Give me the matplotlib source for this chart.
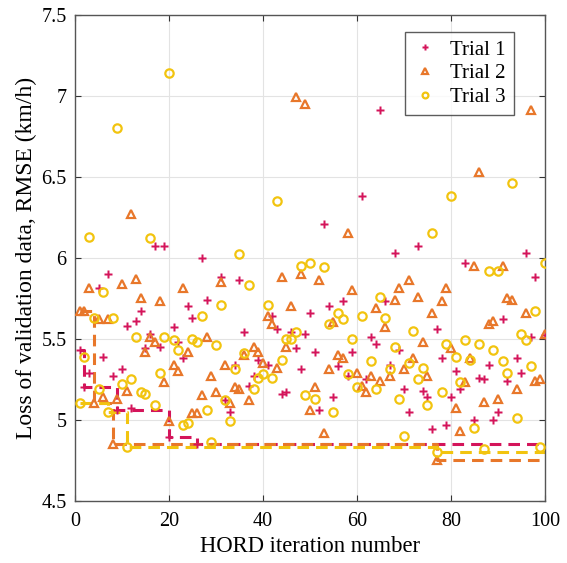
import numpy as np
import matplotlib.pyplot as plt

plt.rcParams['font.family'] = ['Liberation Serif', 'DejaVu Serif']

# Trial 1 (crosses)
it1 = [1, 2, 3, 5, 6, 7, 8, 9, 10, 11, 12, 13, 14, 15, 16, 17, 18, 19, 20, 21, 22, 23, 24, 25,
       26, 27, 28, 31, 32, 33, 34, 35, 36, 37, 38, 39, 41, 42, 43, 44, 45, 46, 47, 48, 49, 50,
       51, 52, 53, 54, 55, 56, 57, 58, 59, 61, 62, 63, 64, 65, 66, 67, 68, 69, 70, 71, 73, 74,
       75, 76, 77, 78, 79, 80, 81, 82, 83, 85, 86, 87, 88, 89, 90, 91, 92, 94, 95, 96, 97, 98, 100]
loss1 = [5.43, 5.20, 5.29, 5.81, 5.39, 5.90, 5.27, 5.06, 5.31, 5.58, 5.07, 5.61, 5.67, 5.44, 5.53,
         6.07, 5.45, 6.07, 4.89, 5.57, 5.48, 5.38, 5.70, 5.63,
         4.85, 6.00, 5.74, 5.88, 5.12, 5.05, 5.34, 5.86, 5.54, 5.21, 5.27, 5.37, 5.34, 5.64, 5.56,
         5.16, 5.17, 5.54, 5.44, 5.31, 5.53, 5.66,
         5.42, 5.06, 6.21, 5.70, 5.14, 5.33, 5.73, 5.27, 5.42, 6.38, 5.25, 5.51, 5.47, 6.91, 5.73,
         5.34, 6.03, 5.43, 5.19, 5.05, 6.07, 5.18,
         5.14, 4.94, 5.56, 5.38, 4.97, 5.14, 5.30, 5.19, 5.97, 5.00, 5.26, 5.25, 5.34, 5.00, 5.05,
         5.62, 5.24, 5.38, 5.29, 6.03, 5.51, 5.88, 5.52]

# Trial 2 (triangles)
it2 = list(range(1, 95)) + [96, 97, 98, 99, 100]
loss2 = [5.67, 5.67, 5.81, 5.10, 5.62, 5.14, 5.62, 4.85, 5.13, 5.84,
         5.18, 6.27, 5.87, 5.75, 5.42, 5.51, 5.48, 5.73, 5.23, 4.99,
         5.34, 5.30, 5.81, 5.42, 5.04, 5.04, 5.15, 5.51, 5.27, 5.17,
         5.85, 5.34, 5.10, 5.20, 5.19, 5.40, 5.12, 5.45, 5.42, 5.35,
         5.64, 5.59, 5.32, 5.88, 5.45, 5.70, 6.99, 5.90, 6.95, 5.06,
         5.20, 5.86, 4.92, 5.31, 5.60, 5.40, 5.38, 6.15, 5.80, 5.29,
         5.21, 5.17, 5.27, 5.69, 5.24, 5.57, 5.27, 5.74, 5.81, 5.31,
         5.86, 5.38, 5.76, 5.48, 5.27, 5.66, 4.75, 5.73, 5.81, 5.44,
         5.07, 4.93, 5.23, 5.38, 5.95, 6.53, 5.11, 5.59, 5.61, 5.13,
         5.95, 5.75, 5.74, 5.19, 5.66, 6.91, 5.24, 5.25, 5.53]

# Trial 3 (circles)
it3 = list(range(1, 51)) + [51] + list(range(53, 62)) + list(range(63, 101))
loss3 = [5.10, 5.39, 6.13, 5.63, 5.19, 5.79, 5.05, 5.63, 6.80, 5.22,
         4.83, 5.25, 5.51, 5.17, 5.16, 6.12, 5.09, 5.29, 5.51, 7.14,
         5.49, 5.43, 4.97, 4.98, 5.50, 5.48, 5.64, 5.06, 4.86, 5.46,
         5.71, 5.12, 4.99, 5.31, 6.02, 5.41, 5.83, 5.19, 5.26, 5.28,
         5.71, 5.26, 6.35, 5.37, 5.50, 5.50, 5.54, 5.95, 5.15, 5.97,
         5.13,
         5.94, 5.59, 5.05, 5.66, 5.62, 5.28, 5.50, 5.20, 5.64,
         5.36, 5.19, 5.76, 5.63, 5.31, 5.45, 5.13, 4.90, 5.35, 5.55,
         5.25, 5.32, 5.09, 6.15, 4.80, 5.17, 5.47, 6.38, 5.39, 5.23,
         5.49, 5.37, 4.95, 5.47, 4.82, 5.92, 5.43, 5.92, 5.36, 5.29,
         6.46, 5.01, 5.53, 5.49, 5.33, 5.67, 4.83, 5.97]

labels = ['Trial 1', 'Trial 2', 'Trial 3']
c1 = '#d4145a'
c2 = '#e8772a'
c3 = '#f2c40f'

fig = plt.figure(figsize=(5.67, 5.63), dpi=100)
ax = fig.add_axes([0.1323, 0.1107, 0.8287, 0.8632])

# running best of each trial (dashed step lines)
for it, loss, c in [(it1, loss1, c1), (it2, loss2, c2), (it3, loss3, c3)]:
    x = list(it) + [100]
    best = np.minimum.accumulate(loss)
    y = list(best) + [best[-1]]
    ax.plot(x, y, drawstyle='steps-post', color=c, lw=2.2, ls=(0, (3.8, 2.3)), zorder=2)

ax.plot(it1, loss1, ls='none', marker='P', ms=5.5, mfc=c1, mec='none', color=c1,
        label=labels[0], zorder=3)
ax.plot(it2, loss2, ls='none', marker='^', ms=6, mfc='none', mec=c2, mew=1.6,
        label=labels[1], zorder=3)
ax.plot(it3, loss3, ls='none', marker='o', ms=6, mfc='none', mec=c3, mew=1.6,
        label=labels[2], zorder=3)

ax.set_xlim(0, 100)
ax.set_ylim(4.5, 7.5)
ax.set_xticks([0, 20, 40, 60, 80, 100])
ax.set_yticks([4.5, 5, 5.5, 6, 6.5, 7, 7.5])
ax.set_yticklabels(['4.5', '5', '5.5', '6', '6.5', '7', '7.5'])
ax.grid(True, color='#e3e3e3', lw=0.8)
ax.set_axisbelow(True)
ax.tick_params(direction='in', top=True, right=True, labelsize=14.5, color='#333333', length=4)
ax.tick_params(axis='x', pad=8)
ax.tick_params(axis='y', pad=6)
for s in ax.spines.values():
    s.set_color('#555555')
    s.set_linewidth(1.0)

ax.set_xlabel('HORD iteration number', fontsize=16.3, labelpad=4)
ax.set_ylabel('Loss of validation data, RMSE (km/h)', fontsize=17, labelpad=3)

leg = ax.legend(loc='upper right', bbox_to_anchor=(0.935, 0.965), fontsize=15, frameon=True,
                fancybox=False, edgecolor='#333333', borderaxespad=0, handletextpad=0.6,
                labelspacing=0.2, handlelength=1.2, markerscale=0.7, borderpad=0.4)
leg.get_frame().set_linewidth(1.0)

fig.savefig('out.png', dpi=100)
